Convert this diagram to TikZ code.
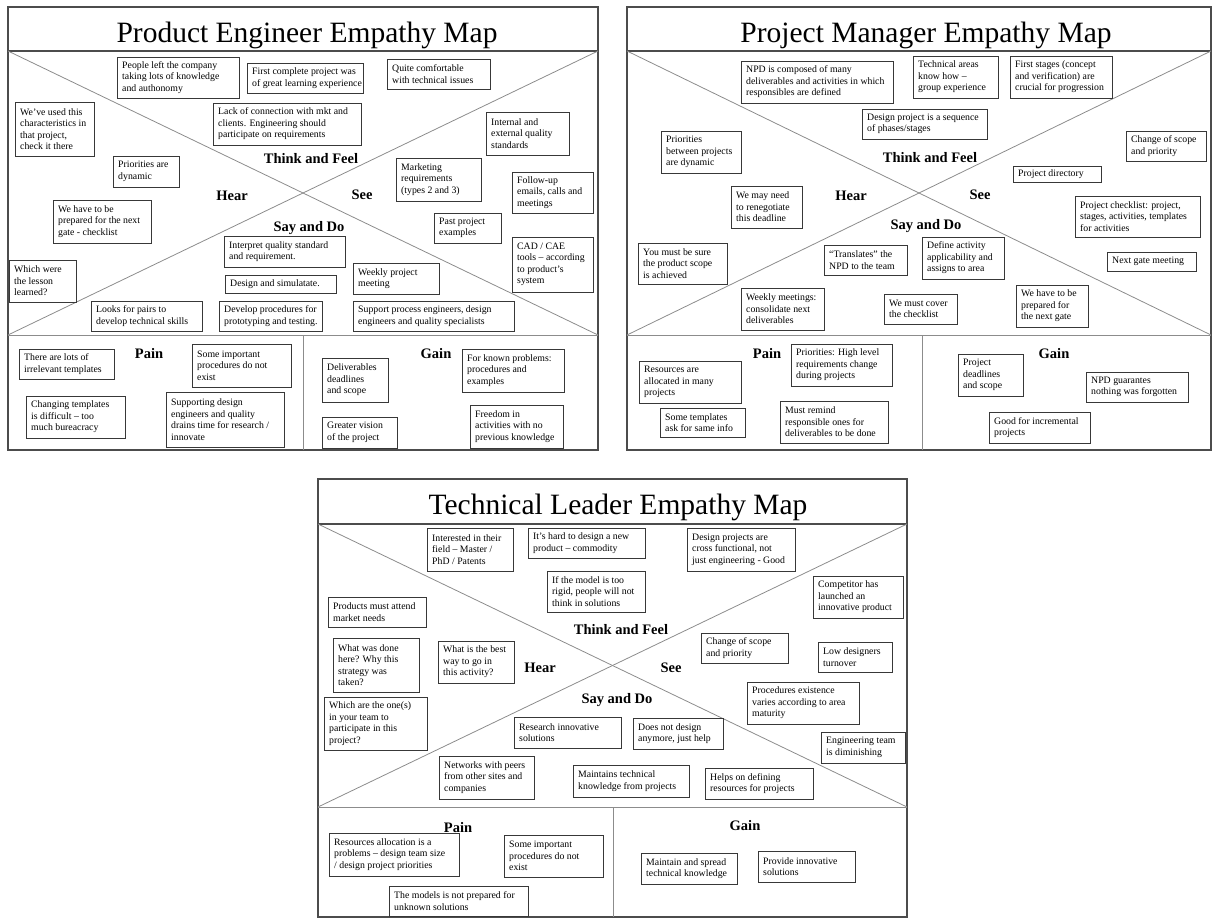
\documentclass[tikz,border=0pt]{standalone}
\usepackage{fontspec}
\setmainfont{Liberation Serif}

% a note: name, left, top, right, bottom, text
\newcommand{\mapnote}[6]{%
  \draw[notebox] (#2,#3) rectangle (#4,#5);
  \node[notetext] (#1) at (#2,{(#3+#5)/2}) {#6};}

\begin{document}
\begin{tikzpicture}[x=1pt,y=-1pt,
    frame/.style={draw=black!70, line width=1.4pt},
    divider/.style={draw=black!45, line width=0.8pt},
    notebox/.style={draw=black!78, line width=1pt},
    notetext/.style={anchor=west, align=left, inner xsep=5pt, inner ysep=0pt,
        font=\fontsize{9.8}{11.5}\selectfont},
    maptitle/.style={anchor=base, font=\fontsize{29.5}{32}\selectfont},
    quadrant/.style={anchor=base, font=\fontsize{14.5}{16}\selectfont\bfseries}]

    \useasboundingbox (0,0) rectangle (1213,919);

    % ---------------- Product Engineer ----------------
    \coordinate (PEnw) at (8,7);
    \coordinate (PEse) at (598,450);
    \coordinate (PEtl) at (8,51);
    \coordinate (PEtr) at (598,51);
    \coordinate (PEml) at (8,335);
    \coordinate (PEmr) at (598,335);
    \coordinate (PEmd) at (303,335);
    \coordinate (PEbd) at (303,450);

    % Draw the frame and the quadrants
    \draw[frame] (PEnw) rectangle (PEse);
    \draw[frame] (PEtl) -- (PEtr);
    \draw[divider] (PEtl) -- (PEmr);
    \draw[divider] (PEml) -- (PEtr);
    \draw[divider] (PEml) -- (PEmr);
    \draw[divider] (PEmd) -- (PEbd);

    % Draw the labels
    \node[maptitle] (PEtitle) at (307,42) {Product Engineer Empathy Map};
    \node[quadrant] (PEthink) at (311,163) {Think and Feel};
    \node[quadrant] (PEhear) at (232,200) {Hear};
    \node[quadrant] (PEsee) at (362,199) {See};
    \node[quadrant] (PEsay) at (309,231) {Say and Do};
    \node[quadrant] (PEpain) at (149,358) {Pain};
    \node[quadrant] (PEgain) at (436,358) {Gain};

    % Draw the notes
    \mapnote{peLeft}{117}{57}{239}{98}{People left the company\\taking lots of knowledge\\and authonomy}
    \mapnote{peFirst}{247}{63}{363}{93}{First complete project was\\of great learning experience}
    \mapnote{peComfort}{387}{59}{490}{89}{Quite comfortable\\with technical issues}
    \mapnote{peUsed}{15}{102}{94}{156}{We’ve used this\\characteristics in\\that project,\\check it there}
    \mapnote{peLack}{213}{103}{361}{145}{Lack of connection with mkt and\\clients. Engineering should\\participate on requirements}
    \mapnote{pePrio}{113}{156}{179}{187}{Priorities are\\dynamic}
    \mapnote{peQuality}{486}{112}{569}{155}{Internal and\\external quality\\standards}
    \mapnote{peMkt}{396}{158}{481}{201}{Marketing\\requirements\\(types 2 and 3)}
    \mapnote{peFollow}{512}{172}{593}{213}{Follow-up\\emails, calls and\\meetings}
    \mapnote{peGate}{53}{200}{151}{243}{We have to be\\prepared for the next\\gate - checklist}
    \mapnote{pePast}{434}{213}{501}{243}{Past project\\examples}
    \mapnote{peInterpret}{224}{236}{345}{267}{Interpret quality standard\\and requirement.}
    \mapnote{peLesson}{9}{260}{76}{302}{Which were\\the lesson\\learned?}
    \mapnote{peDesign}{225}{275}{336}{293}{Design and simulatate.}
    \mapnote{peWeekly}{353}{263}{439}{294}{Weekly project\\meeting}
    \mapnote{peCad}{512}{237}{593}{292}{CAD / CAE\\tools – according\\to product’s\\system}
    \mapnote{pePairs}{91}{301}{202}{331}{Looks for pairs to\\develop technical skills}
    \mapnote{peProc}{219}{301}{322}{331}{Develop procedures for\\prototyping and testing.}
    \mapnote{peSupport}{353}{301}{514}{331}{Support process engineers, design\\engineers and quality specialists}
    % pain
    \mapnote{peIrrel}{19}{349}{114}{379}{There are lots of\\irrelevant templates}
    \mapnote{peMissing}{192}{344}{291}{387}{Some important\\procedures do not\\exist}
    \mapnote{peChange}{26}{396}{125}{438}{Changing templates\\is difficult – too\\much bureacracy}
    \mapnote{peDrain}{166}{392}{284}{447}{Supporting design\\engineers and quality\\drains time for research /\\innovate}
    % gain
    \mapnote{peDeliv}{322}{358}{388}{402}{Deliverables\\deadlines\\and scope}
    \mapnote{peKnown}{462}{349}{564}{392}{For known problems:\\procedures and\\examples}
    \mapnote{peVision}{322}{417}{397}{448}{Greater vision\\of the project}
    \mapnote{peFree}{470}{405}{563}{448}{Freedom in\\activities with no\\previous knowledge}

    % ---------------- Project Manager ----------------
    \coordinate (PMnw) at (627,7);
    \coordinate (PMse) at (1211,450);
    \coordinate (PMtl) at (627,51);
    \coordinate (PMtr) at (1211,51);
    \coordinate (PMml) at (627,335);
    \coordinate (PMmr) at (1211,335);
    \coordinate (PMmd) at (922,335);
    \coordinate (PMbd) at (922,450);

    % Draw the frame and the quadrants
    \draw[frame] (PMnw) rectangle (PMse);
    \draw[frame] (PMtl) -- (PMtr);
    \draw[divider] (PMtl) -- (PMmr);
    \draw[divider] (PMml) -- (PMtr);
    \draw[divider] (PMml) -- (PMmr);
    \draw[divider] (PMmd) -- (PMbd);

    % Draw the labels
    \node[maptitle] (PMtitle) at (926,42) {Project Manager Empathy Map};
    \node[quadrant] (PMthink) at (930,162) {Think and Feel};
    \node[quadrant] (PMhear) at (851,200) {Hear};
    \node[quadrant] (PMsee) at (980,199) {See};
    \node[quadrant] (PMsay) at (926,229) {Say and Do};
    \node[quadrant] (PMpain) at (767,358) {Pain};
    \node[quadrant] (PMgain) at (1054,358) {Gain};

    % Draw the notes
    \mapnote{pmNpd}{741}{61}{893}{103}{NPD is composed of many\\deliverables and activities in which\\responsibles are defined}
    \mapnote{pmKnow}{913}{56}{998}{98}{Technical areas\\know how –\\group experience}
    \mapnote{pmStages}{1010}{56}{1112}{98}{First stages (concept\\and verification) are\\crucial for progression}
    \mapnote{pmSeq}{862}{109}{987}{139}{Design project is a sequence\\of phases/stages}
    \mapnote{pmPrio}{661}{131}{741}{173}{Priorities\\between projects\\are dynamic}
    \mapnote{pmScope}{1126}{131}{1206}{161}{Change of scope\\and priority}
    \mapnote{pmDir}{1013}{166}{1101}{182}{Project directory}
    \mapnote{pmRenego}{731}{186}{802}{228}{We may need\\to renegotiate\\this deadline}
    \mapnote{pmCheck}{1075}{196}{1200}{237}{Project checklist: project,\\stages, activities, templates\\for activities}
    \mapnote{pmSure}{638}{243}{727}{284}{You must be sure\\the product scope\\is achieved}
    \mapnote{pmTrans}{824}{245}{907}{275}{“Translates” the\\NPD to the team}
    \mapnote{pmDefine}{922}{237}{1004}{279}{Define activity\\applicability and\\assigns to area}
    \mapnote{pmNext}{1107}{252}{1196}{271}{Next gate meeting}
    \mapnote{pmWeekly}{741}{288}{824}{330}{Weekly meetings:\\consolidate next\\deliverables}
    \mapnote{pmCover}{884}{294}{957}{324}{We must cover\\the checklist}
    \mapnote{pmGate}{1016}{285}{1088}{327}{We have to be\\prepared for\\the next gate}
    % pain
    \mapnote{pmAlloc}{639}{361}{741}{403}{Resources are\\allocated in many\\projects}
    \mapnote{pmHigh}{791}{344}{892}{386}{Priorities: High level\\requirements change\\during projects}
    \mapnote{pmSame}{660}{408}{745}{437}{Some templates\\ask for same info}
    \mapnote{pmRemind}{780}{401}{888}{443}{Must remind\\responsible ones for\\deliverables to be done}
    % gain
    \mapnote{pmDead}{958}{354}{1023}{396}{Project\\deadlines\\and scope}
    \mapnote{pmForgot}{1086}{372}{1188}{402}{NPD guarantes\\nothing was forgotten}
    \mapnote{pmIncr}{989}{412}{1090}{443}{Good for incremental\\projects}

    % ---------------- Technical Leader ----------------
    \coordinate (TLnw) at (318,479);
    \coordinate (TLse) at (907,917);
    \coordinate (TLtl) at (318,524);
    \coordinate (TLtr) at (907,524);
    \coordinate (TLml) at (318,807);
    \coordinate (TLmr) at (907,807);
    \coordinate (TLmd) at (613,807);
    \coordinate (TLbd) at (613,917);

    % Draw the frame and the quadrants
    \draw[frame] (TLnw) rectangle (TLse);
    \draw[frame] (TLtl) -- (TLtr);
    \draw[divider] (TLtl) -- (TLmr);
    \draw[divider] (TLml) -- (TLtr);
    \draw[divider] (TLml) -- (TLmr);
    \draw[divider] (TLmd) -- (TLbd);

    % Draw the labels
    \node[maptitle] (TLtitle) at (618,514) {Technical Leader Empathy Map};
    \node[quadrant] (TLthink) at (621,634) {Think and Feel};
    \node[quadrant] (TLhear) at (540,672) {Hear};
    \node[quadrant] (TLsee) at (671,672) {See};
    \node[quadrant] (TLsay) at (617,703) {Say and Do};
    \node[quadrant] (TLpain) at (458,832) {Pain};
    \node[quadrant] (TLgain) at (745,830) {Gain};

    % Draw the notes
    \mapnote{tlField}{427}{528}{513}{571}{Interested in their\\field – Master /\\PhD / Patents}
    \mapnote{tlHard}{528}{528}{645}{558}{It’s hard to design a new\\product – commodity}
    \mapnote{tlCross}{687}{528}{795}{571}{Design projects are\\cross functional, not\\just engineering - Good}
    \mapnote{tlRigid}{547}{571}{645}{612}{If the model is too\\rigid, people will not\\think in solutions}
    \mapnote{tlMarket}{328}{597}{426}{627}{Products must attend\\market needs}
    \mapnote{tlComp}{813}{576}{903}{618}{Competitor has\\launched an\\innovative product}
    \mapnote{tlWhat}{333}{638}{419}{692}{What was done\\here? Why this\\strategy was\\taken?}
    \mapnote{tlBest}{438}{641}{514}{683}{What is the best\\way to go in\\this activity?}
    \mapnote{tlScope}{701}{633}{788}{663}{Change of scope\\and priority}
    \mapnote{tlTurn}{818}{642}{892}{672}{Low designers\\turnover}
    \mapnote{tlWhich}{324}{697}{427}{750}{Which are the one(s)\\in your team to\\participate in this\\project?}
    \mapnote{tlProc}{747}{682}{859}{724}{Procedures existence\\varies according to area\\maturity}
    \mapnote{tlResearch}{514}{717}{621}{748}{Research innovative\\solutions}
    \mapnote{tlHelp}{633}{718}{723}{749}{Does not design\\anymore, just help}
    \mapnote{tlShrink}{821}{732}{905}{763}{Engineering team\\is diminishing}
    \mapnote{tlPeers}{439}{756}{534}{799}{Networks with peers\\from other sites and\\companies}
    \mapnote{tlMaint}{573}{765}{689}{797}{Maintains technical\\knowledge from projects}
    \mapnote{tlDefine}{705}{768}{813}{799}{Helps on defining\\resources for projects}
    % pain
    \mapnote{tlAlloc}{329}{833}{459}{876}{Resources allocation is a\\problems – design team size\\/ design project priorities}
    \mapnote{tlMissing}{504}{835}{603}{877}{Some important\\procedures do not\\exist}
    \mapnote{tlModels}{389}{886}{528}{916}{The models is not prepared for\\unknown solutions}
    % gain
    \mapnote{tlSpread}{641}{853}{737}{884}{Maintain and spread\\technical knowledge}
    \mapnote{tlInnov}{758}{851}{855}{882}{Provide innovative\\solutions}

\end{tikzpicture}
\end{document}
